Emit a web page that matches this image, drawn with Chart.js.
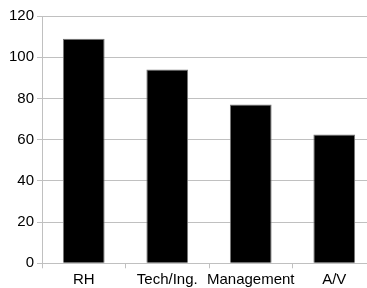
<!DOCTYPE html>
<html>
<head>
<meta charset="utf-8">
<script src="https://cdn.jsdelivr.net/npm/chart.js@4/dist/chart.umd.min.js"></script>
<style>
  html, body { margin: 0; padding: 0; overflow: hidden; background: #fff; }
  #wrap { width: 376px; height: 288px; position: relative; }
</style>
</head>
<body>
<div id="wrap"><canvas id="barChart"></canvas></div>
<script>
// データ
const categories = ['RH', 'Tech/Ing.', 'Management', 'A/V']
const counts = [109, 94, 77, 62.5]
const yTicks = [0, 20, 40, 60, 80, 100, 120]

document.addEventListener('DOMContentLoaded', () => {
  const ctx = document.querySelector('#barChart')
  if (!ctx) return

  const font = { family: "'Liberation Sans', Arial, sans-serif", size: 15 }

  new Chart(ctx, {
    type: 'bar',
    data: {
      labels: categories,
      datasets: [{
        data: counts,
        backgroundColor: '#000',
        borderColor: '#777',
        borderWidth: 1,
        barPercentage: 0.5,
        categoryPercentage: 1.0
      }]
    },
    options: {
      responsive: true,
      maintainAspectRatio: false,
      animation: false,
      layout: { padding: { top: 16, right: 0, bottom: 0, left: 0 } },
      plugins: {
        legend: { display: false },
        tooltip: { enabled: false }
      },
      scales: {
        x: {
          grid: {
            offset: true,
            drawOnChartArea: false,
            drawTicks: true,
            tickLength: 5,
            color: '#c0c0c0'
          },
          border: { color: '#c0c0c0' },
          ticks: { color: '#000', font: font, padding: 3, maxRotation: 0, autoSkip: false },
          afterFit: (scale) => { scale.height = 24.7 }
        },
        y: {
          min: yTicks[0],
          max: yTicks[yTicks.length - 1],
          afterBuildTicks: (scale) => {
            scale.ticks = yTicks.map((v) => ({ value: v }))
          },
          grid: { color: '#c0c0c0', tickLength: 5 },
          border: { color: '#c0c0c0' },
          ticks: { color: '#000', font: font, padding: 3 },
          afterFit: (scale) => { scale.width = 42 }
        }
      }
    }
  })
})
</script>
</body>
</html>
